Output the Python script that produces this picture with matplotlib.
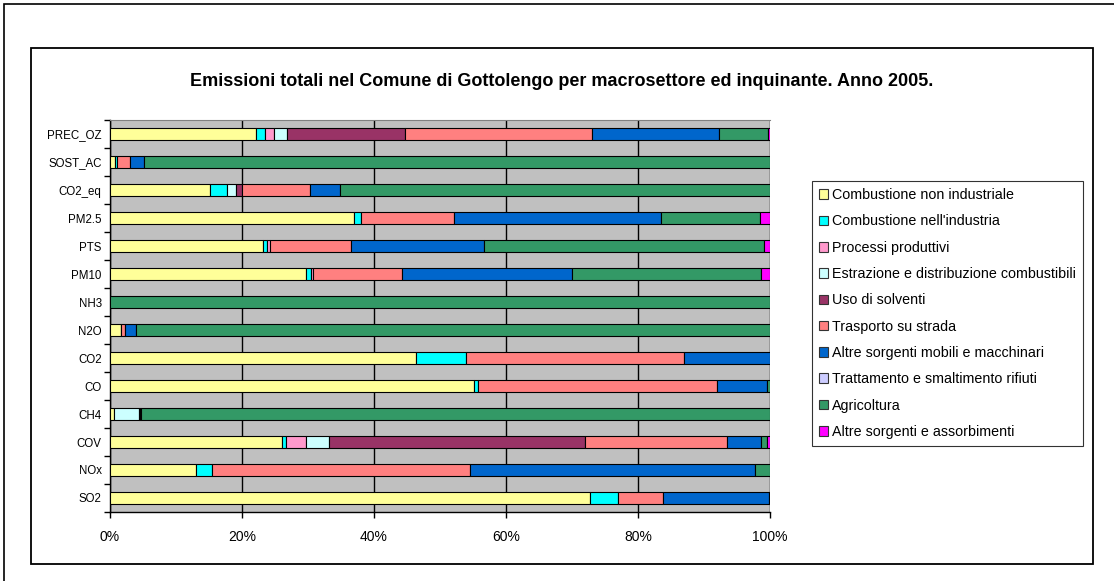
import numpy as np
import matplotlib.pyplot as plt
from matplotlib.patches import Rectangle, Patch
from matplotlib.ticker import FixedLocator

plt.rcParams['font.family'] = ['Liberation Sans', 'DejaVu Sans']

# inquinanti, dall'alto verso il basso
categories = ['PREC_OZ', 'SOST_AC', 'CO2_eq', 'PM2.5', 'PTS', 'PM10', 'NH3',
              'N2O', 'CO2', 'CO', 'CH4', 'COV', 'NOx', 'SO2']

sectors = ['Combustione non industriale', "Combustione nell'industria",
           'Processi produttivi', 'Estrazione e distribuzione combustibili',
           'Uso di solventi', 'Trasporto su strada',
           'Altre sorgenti mobili e macchinari',
           'Trattamento e smaltimento rifiuti', 'Agricoltura',
           'Altre sorgenti e assorbimenti']

comb_non_ind = [22.1, 0.8, 15.2, 37.0, 23.2, 29.7, 0.0, 1.6, 46.4, 55.1, 0.6, 26.0, 13.0, 72.8]
comb_ind = [1.4, 0.2, 2.5, 1.0, 0.6, 0.7, 0.0, 0.1, 7.6, 0.6, 0.0, 0.6, 2.4, 4.1]
processi = [1.4, 0.0, 0.0, 0.0, 0.4, 0.4, 0.0, 0.0, 0.0, 0.0, 0.0, 3.1, 0.0, 0.0]
estrazione = [1.9, 0.0, 1.4, 0.0, 0.0, 0.0, 0.0, 0.0, 0.0, 0.0, 3.8, 3.5, 0.0, 0.0]
solventi = [17.9, 0.0, 0.9, 0.0, 0.0, 0.0, 0.0, 0.0, 0.0, 0.0, 0.0, 38.7, 0.0, 0.0]
trasporto = [28.3, 2.0, 10.3, 14.1, 12.3, 13.5, 0.0, 0.5, 33.0, 36.3, 0.2, 21.6, 39.1, 6.9]
altre_mobili = [19.2, 2.2, 4.5, 31.4, 20.1, 25.7, 0.0, 1.8, 13.0, 7.6, 0.0, 5.1, 43.3, 16.0]
rifiuti = [0.0, 0.0, 0.0, 0.0, 0.0, 0.0, 0.0, 0.0, 0.0, 0.0, 0.1, 0.0, 0.0, 0.0]
agricoltura = [7.5, 94.8, 65.2, 15.0, 42.5, 28.7, 100.0, 96.0, 0.0, 0.4, 95.3, 1.0, 2.2, 0.2]
altre_ass = [0.3, 0.0, 0.0, 1.5, 0.9, 1.3, 0.0, 0.0, 0.0, 0.0, 0.0, 0.4, 0.0, 0.0]

values = [comb_non_ind, comb_ind, processi, estrazione, solventi, trasporto,
          altre_mobili, rifiuti, agricoltura, altre_ass]
colors = ['#FFFF99', '#00FFFF', '#FF99CC', '#CCFFFF', '#993366', '#FF8080',
          '#0066CC', '#CCCCFF', '#339966', '#FF00FF']

W, H = 1114, 581
fig = plt.figure(figsize=(W / 100, H / 100), dpi=100)

# cornici
fig.add_artist(Rectangle((4 / W, -0.1), 1.2, 1 - 4 / H + 0.1, transform=fig.transFigure,
                         fill=False, edgecolor='black', linewidth=1.2))
fig.add_artist(Rectangle((31 / W, 1 - 564 / H), (1093 - 31) / W, (564 - 48) / H,
                         transform=fig.transFigure, fill=False, edgecolor='black',
                         linewidth=1.3))

ax = fig.add_axes([110 / W, 1 - 512 / H, 660 / W, 392 / H])
ax.set_facecolor('#C0C0C0')

y = np.arange(len(categories))
left = np.zeros(len(categories))
for vals, col in zip(values, colors):
    v = np.array(vals)
    ax.barh(y, v, left=left, height=0.4, color=col,
            edgecolor='black', linewidth=np.where(v > 0, 0.8, 0), zorder=3)
    left += v

ax.set_xlim(0, 100)
ax.set_ylim(len(categories) - 0.5, -0.5)
ax.set_xticks(range(0, 101, 20))
ax.set_xticklabels([f'{t}%' for t in range(0, 101, 20)], fontsize=10)
ax.xaxis.grid(True, color='black', linewidth=1, zorder=1)
ax.set_axisbelow(True)
ax.set_yticks(y)
ax.set_yticklabels(categories, fontsize=8.3)
ax.yaxis.set_minor_locator(FixedLocator(np.arange(-0.5, len(categories), 1)))
ax.tick_params(axis='y', which='major', length=0, pad=6)
ax.tick_params(axis='y', which='minor', length=4, width=1, direction='out')
ax.tick_params(axis='x', length=4, width=1, direction='out', pad=9)

for s in ['left', 'bottom']:
    ax.spines[s].set_color('black')
    ax.spines[s].set_linewidth(1)
ax.spines['top'].set_color('#808080')
ax.spines['right'].set_visible(False)

fig.text(562 / W, 1 - 81 / H,
         'Emissioni totali nel Comune di Gottolengo per macrosettore ed inquinante. Anno 2005.',
         ha='center', va='center', fontsize=13, fontweight='bold')

handles = [Patch(facecolor=c, edgecolor='#333333', linewidth=0.8) for c in colors]
leg = fig.legend(handles, sectors, loc='upper left',
                 bbox_to_anchor=(812 / W, 1 - 181 / H), borderaxespad=0,
                 fontsize=10.3, frameon=True, fancybox=False, edgecolor='black',
                 handlelength=0.65, handleheight=0.65, handletextpad=0.25,
                 labelspacing=0.86, borderpad=0.5)
leg.get_frame().set_linewidth(0.8)

fig.savefig('out.png', dpi=100)
